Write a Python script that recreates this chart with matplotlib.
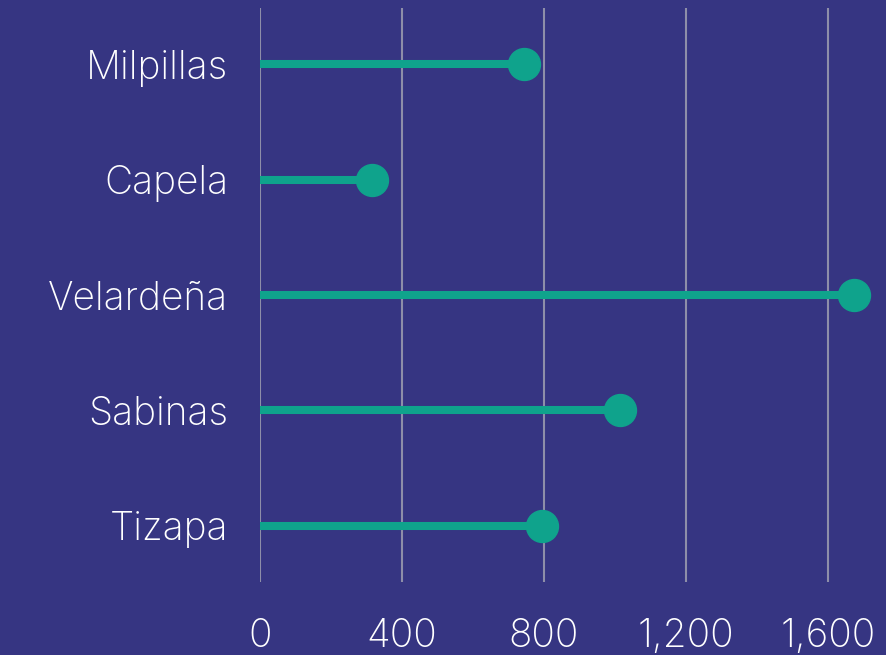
import matplotlib
matplotlib.use("Agg")
import matplotlib.pyplot as plt

# Data, bottom to top
mines = ["Tizapa", "Sabinas", "Velardeña", "Capela", "Milpillas"]
values = [794, 1014, 1673, 315, 745]
ticks = [0, 400, 800, 1200, 1600]

bg = "#363582"
teal = "#0fa38c"
grid = "#8e8ea9"

plt.rcParams["font.family"] = ["Inter", "DejaVu Sans"]
plt.rcParams["font.weight"] = "light"

fig = plt.figure(figsize=(8.87, 6.55), dpi=100, facecolor=bg)
ax = fig.add_axes([260 / 887, 1 - 582 / 655, 627 / 887, 574 / 655])
ax.set_facecolor(bg)

pos = list(range(len(mines)))
ax.hlines(pos, 0, values, color=teal, linewidth=5.8, zorder=3)
ax.plot(values, pos, "o", color=teal, markersize=23, zorder=4)

ax.set_xlim(0, 627 / 0.355)
ax.set_ylim(-0.485, len(mines) - 1 + 0.485)
ax.set_xticks(ticks)
ax.set_xticklabels([f"{t:,}" for t in ticks])
ax.set_yticks(pos)
ax.set_yticklabels(mines)
ax.grid(axis="x", color=grid, linewidth=1.5, zorder=1)
ax.set_axisbelow(True)
ax.tick_params(length=0, colors="white", labelsize=28)
ax.tick_params(axis="x", pad=26)
ax.tick_params(axis="y", pad=23)
for s in ax.spines.values():
    s.set_visible(False)

fig.savefig("out.png", dpi=100, facecolor=bg)
